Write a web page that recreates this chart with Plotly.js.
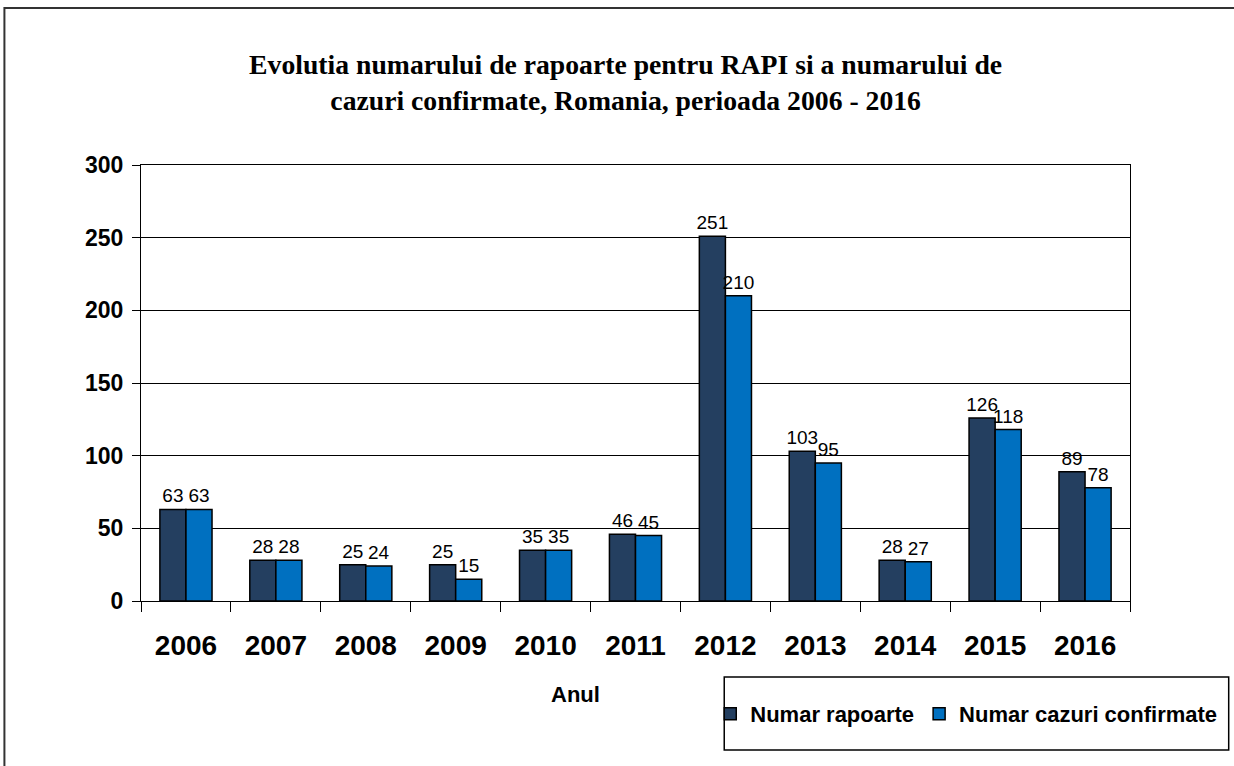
<!DOCTYPE html>
<html>
<head>
<meta charset="utf-8">
<script src="https://cdn.plot.ly/plotly-3.0.1.min.js"></script>
<style>
  html, body { margin: 0; padding: 0; background: #fff; }
  #plot { width: 1234px; height: 766px; }
</style>
</head>
<body>
<div id="plot"></div>
<script>
// years on the x axis
var ani = ["2006", "2007", "2008", "2009", "2010", "2011", "2012", "2013", "2014", "2015", "2016"];
// number of reports
var rapoarte = [63, 28, 25, 25, 35, 46, 251, 103, 28, 126, 89];
// confirmed cases
var confirmate = [63, 28, 24, 15, 35, 45, 210, 95, 27, 118, 78];
var yTicks = [0, 50, 100, 150, 200, 250, 300];

var sans = "Arial, 'Liberation Sans', sans-serif";

var trace1 = {
  x: ani,
  y: rapoarte,
  text: rapoarte.map(String),
  name: "Numar rapoarte",
  type: "bar",
  textposition: "outside",
  constraintext: "none",
  cliponaxis: false,
  textfont: { family: sans, size: 19, color: "#000" },
  marker: { color: "#243F60", line: { color: "#000", width: 1.5 } }
};

var trace2 = {
  x: ani,
  y: confirmate,
  text: confirmate.map(String),
  name: "Numar cazuri confirmate",
  type: "bar",
  textposition: "outside",
  constraintext: "none",
  cliponaxis: false,
  textfont: { family: sans, size: 19, color: "#000" },
  marker: { color: "#0070C0", line: { color: "#000", width: 1.5 } }
};

var data = [trace1, trace2];

var layout = {
  width: 1234,
  height: 766,
  margin: { l: 141, r: 101, t: 165, b: 165 },
  paper_bgcolor: "#fff",
  plot_bgcolor: "#fff",
  barmode: "group",
  bargap: 0.42,
  bargroupgap: 0,
  title: {
    text: "Evolutia numarului de rapoarte pentru RAPI si a numarului de<br>cazuri confirmate, Romania, perioada 2006 - 2016",
    font: { family: "'Liberation Serif', 'Times New Roman', serif", size: 27.7, weight: "bold", color: "#000" },
    xref: "container",
    x: 0.507,
    yref: "container",
    y: 1 - 74 / 766,
    yanchor: "middle"
  },
  xaxis: {
    type: "category",
    tickson: "boundaries",
    ticks: "outside",
    ticklen: 10,
    tickcolor: "#000",
    tickwidth: 1,
    showline: true,
    linecolor: "#000",
    linewidth: 1,
    mirror: true,
    showgrid: false,
    tickfont: { family: sans, size: 28, weight: "bold", color: "#000" },
    ticklabelstandoff: 19
  },
  yaxis: {
    range: [0, 300],
    tickvals: yTicks,
    ticks: "outside",
    ticklen: 8,
    tickcolor: "#000",
    showline: true,
    linecolor: "#000",
    linewidth: 1,
    mirror: true,
    showgrid: true,
    gridcolor: "#000",
    gridwidth: 1,
    zeroline: false,
    tickfont: { family: sans, size: 23, weight: "bold", color: "#000" },
    ticklabelstandoff: 4
  },
  showlegend: true,
  legend: {
    orientation: "h",
    x: (712 - 141) / 992,
    xanchor: "left",
    y: -0.259,
    yanchor: "middle",
    font: { family: sans, size: 22, weight: "bold", color: "#000" },
    bgcolor: "rgba(0,0,0,0)",
    itemwidth: 30,
    traceorder: "normal"
  },
  annotations: [{
    text: "Anul",
    xref: "paper",
    yref: "paper",
    x: (577 - 141) / 992,
    y: (601 - 694) / 436,
    xanchor: "center",
    yanchor: "middle",
    showarrow: false,
    font: { family: sans, size: 22, weight: "bold", color: "#000" }
  }],
  shapes: [
    {
      type: "rect", xref: "paper", yref: "paper",
      x0: (4 - 141) / 992, x1: (1250 - 141) / 992,
      y0: (601 - 790) / 436, y1: (601 - 8) / 436,
      line: { color: "#333", width: 2 }
    },
    {
      type: "rect", xref: "paper", yref: "paper",
      x0: (726 - 141) / 992, x1: (1232 - 141) / 992,
      y0: (601 - 750) / 436, y1: (601 - 677) / 436,
      line: { color: "#000", width: 1.5 }
    }
  ]
};

Plotly.newPlot("plot", data, layout, { displayModeBar: false });
</script>
</body>
</html>
